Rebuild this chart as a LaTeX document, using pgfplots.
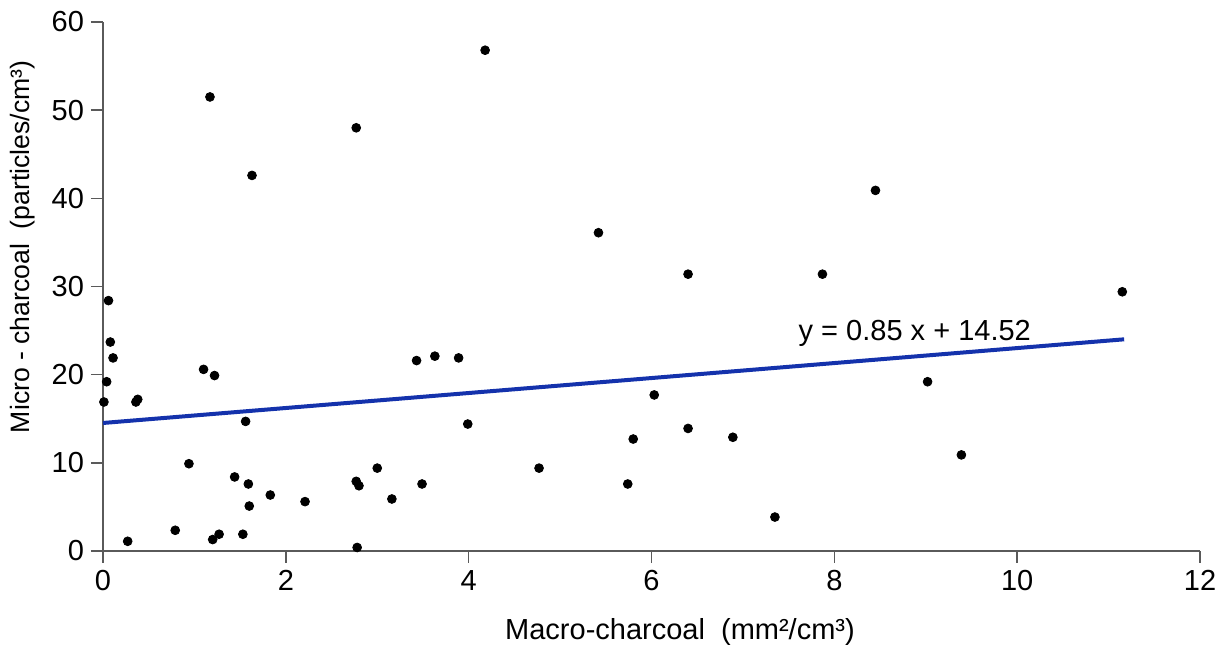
\documentclass[border=0pt]{standalone}
\usepackage{fontspec}
\setmainfont{Liberation Sans}
\usepackage{pgfplots}
\pgfplotsset{compat=1.18}
\definecolor{fitblue}{RGB}{20,50,172}
\definecolor{axisgray}{RGB}{90,90,90}

\begin{document}
\begin{tikzpicture}
\useasboundingbox (-51.5pt,-51pt) rectangle (562pt,275.5pt);
\begin{axis}[
  at={(0,0)}, anchor=south west,
  scale only axis,
  width=548.5pt, height=264.5pt,
  xmin=0, xmax=12, ymin=0, ymax=60,
  xtick={0,2,...,12}, ytick={0,10,...,60},
  axis lines=left,
  axis line style={-, draw=axisgray, line width=0.75pt},
  tick align=outside,
  major tick length=6pt,
  tick style={draw=axisgray, line width=0.75pt},
  /pgf/number format/assume math mode=true,
  tick label style={font=\fontsize{14.5}{16}\selectfont},
  xlabel={Macro-charcoal\ \ (mm²/cm³)},
  ylabel={Micro - charcoal\ \ (particles/cm³)},
  xlabel style={font=\fontsize{14.5}{16}\selectfont,
    at={(axis description cs:0.526,0)}, anchor=center, yshift=-40.5pt},
  ylabel style={font=\fontsize{13.3}{15}\selectfont,
    at={(axis description cs:-0.073,0.575)}, anchor=center, rotate=0},
  clip=false,
]
% sampled charcoal concentrations
\addplot[only marks, mark=*, mark size=2.2pt, black] coordinates {
  (0.01,16.9) (0.04,19.2) (0.06,28.4) (0.08,23.7) (0.11,21.9)
  (0.27,1.1) (0.36,16.9) (0.38,17.2) (0.79,2.35) (0.94,9.9)
  (1.10,20.6) (1.17,51.5) (1.22,19.9) (1.20,1.3) (1.27,1.9)
  (1.44,8.4) (1.53,1.9) (1.56,14.7) (1.59,7.6) (1.60,5.1)
  (1.63,42.6) (1.83,6.35) (2.21,5.6) (2.77,7.9) (2.80,7.4)
  (2.78,0.4) (2.77,48.0) (3.00,9.4) (3.16,5.9) (3.43,21.6)
  (3.49,7.6) (3.63,22.1) (3.89,21.9) (3.99,14.4) (4.18,56.8)
  (4.77,9.4) (5.42,36.1) (5.74,7.6) (5.80,12.7) (6.03,17.7)
  (6.40,31.4) (6.40,13.9) (6.89,12.9) (7.35,3.85) (7.87,31.4)
  (8.45,40.9) (9.02,19.2) (9.39,10.9) (11.15,29.4)
};
% linear fit y = 0.85 x + 14.52
\addplot[fitblue, line width=2pt] coordinates {(0,14.52) (11.17,24.01)};
\node[anchor=base, font=\fontsize{14.5}{16}\selectfont, inner sep=0pt]
  at (axis cs:8.88,23.92) {y = 0.85 x + 14.52};
\end{axis}
\end{tikzpicture}
\end{document}
